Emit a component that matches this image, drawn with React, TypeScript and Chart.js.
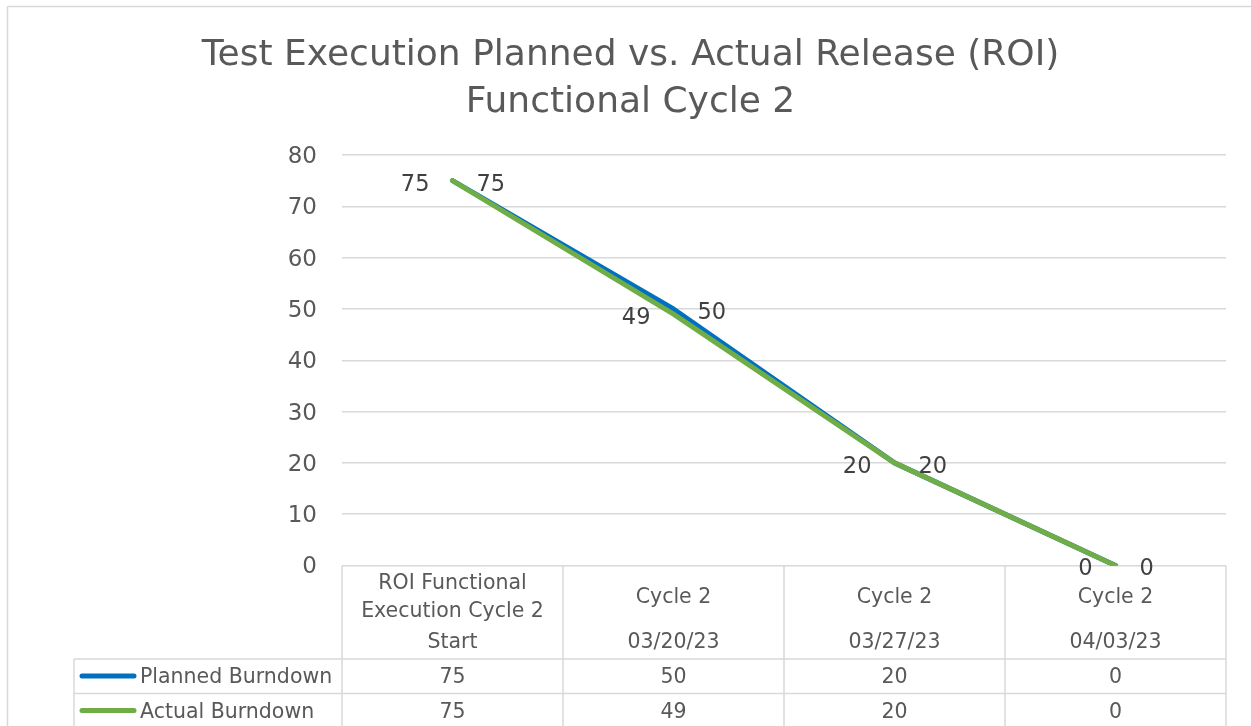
import React, { useEffect, useRef } from "react";
import { Chart, registerables } from "chart.js";

Chart.register(...registerables);

// ---- data ----
const titleLines = ["Test Execution Planned vs. Actual Release (ROI)", "Functional Cycle 2"];
const categoryNames: string[][] = [["ROI Functional", "Execution Cycle 2"], ["Cycle 2"], ["Cycle 2"], ["Cycle 2"]];
const categoryDates = ["Start", "03/20/23", "03/27/23", "04/03/23"];
const seriesNames = ["Planned Burndown", "Actual Burndown"];
const plannedBurndown = [75, 50, 20, 0];
const actualBurndown = [75, 49, 20, 0];
const yMin = 0;
const yMax = 80;
const yStep = 10;

// ---- style ----
const FONT = "'DejaVu Sans', Lato, sans-serif";
const seriesColors = ["#0070C0", "#70AD47"];
const GRID = "#d9d9d9";
const TEXT = "#595959";
const LABEL = "#404040";
const PAD_LEFT = 35;
const PLOT_LEFT = 342;
const TXT_DY = 2;

const dataLabelPlugin = {
  id: "dataLabels",
  afterDatasetsDraw(chart: any) {
    const ctx = chart.ctx;
    ctx.save();
    ctx.font = `22.5px ${FONT}`;
    ctx.fillStyle = LABEL;
    ctx.textBaseline = "middle";
    chart.data.datasets.forEach((ds: any, di: number) => {
      const meta = chart.getDatasetMeta(di);
      meta.data.forEach((pt: any, i: number) => {
        const right = di === 0;
        ctx.textAlign = right ? "left" : "right";
        ctx.fillText(String(ds.data[i]), pt.x + (right ? 24 : -23), pt.y + 4);
      });
    });
    ctx.restore();
  },
};

const tablePlugin = {
  id: "dataTable",
  afterDraw(chart: any) {
    const { ctx, chartArea } = chart;
    const xs = chart.scales.x;
    const n = chart.data.labels.length;
    const colW = (chartArea.right - chartArea.left) / n;
    const top = chartArea.bottom;
    const H = chart.height;
    const W = chart.width;
    const line = (x1: number, y1: number, x2: number, y2: number) => {
      ctx.beginPath();
      ctx.moveTo(x1, y1);
      ctx.lineTo(x2, y2);
      ctx.stroke();
    };
    ctx.save();
    ctx.strokeStyle = GRID;
    ctx.lineWidth = 1.5;
    // outer chart border
    line(7.5, H + 5, 7.5, 6.5);
    line(7.5, 6.5, W + 5, 6.5);
    // column lines
    for (let i = 0; i <= n; i++) {
      const x = chartArea.left + i * colW;
      line(x, top, x, H + 5);
    }
    const legendLeft = 74;
    const rowLines = [top + 93.5, top + 128];
    rowLines.forEach((y) => line(legendLeft, y, chartArea.right, y));
    line(legendLeft, rowLines[0], legendLeft, H + 5);

    // header text
    ctx.fillStyle = TEXT;
    ctx.font = `20.5px ${FONT}`;
    ctx.textAlign = "center";
    ctx.textBaseline = "middle";
    categoryNames.forEach((lines, i) => {
      const cx = xs.getPixelForValue(i);
      const cy = top + 30 + TXT_DY;
      lines.forEach((t, j) => ctx.fillText(t, cx, cy + (j - (lines.length - 1) / 2) * 28));
      ctx.fillText(categoryDates[i], cx, top + 75.5 + TXT_DY);
    });

    // series rows
    const rowCenters = [top + 110.5 + TXT_DY, top + 145 + TXT_DY];
    chart.data.datasets.forEach((ds: any, r: number) => {
      const cy = rowCenters[r];
      ctx.strokeStyle = ds.borderColor;
      ctx.lineWidth = 5;
      ctx.lineCap = "round";
      line(82, cy - TXT_DY, 134, cy - TXT_DY);
      ctx.textAlign = "left";
      ctx.fillText(ds.label, 140, cy);
      ctx.textAlign = "center";
      ds.data.forEach((v: number, i: number) => ctx.fillText(String(v), xs.getPixelForValue(i), cy));
    });
    ctx.restore();
  },
};

export default function App() {
  const ref = useRef<HTMLCanvasElement | null>(null);
  useEffect(() => {
    if (!ref.current) return;
    const chart = new Chart(ref.current, {
      type: "line",
      data: {
        labels: categoryNames.map((l, i) => [...l, categoryDates[i]]),
        datasets: [
          {
            label: seriesNames[0],
            data: plannedBurndown,
            borderColor: seriesColors[0],
            backgroundColor: seriesColors[0],
            borderWidth: 5,
            pointRadius: 0,
            borderCapStyle: "round",
            borderJoinStyle: "round",
            order: 1,
          },
          {
            label: seriesNames[1],
            data: actualBurndown,
            borderColor: seriesColors[1],
            backgroundColor: seriesColors[1],
            borderWidth: 5,
            pointRadius: 0,
            borderCapStyle: "round",
            borderJoinStyle: "round",
            order: 0,
          },
        ],
      },
      options: {
        animation: false,
        responsive: false,
        devicePixelRatio: 1,
        layout: { padding: { left: PAD_LEFT, right: 25, top: 0, bottom: 160.5 } },
        plugins: {
          legend: { display: false },
          tooltip: { enabled: false },
          title: {
            display: true,
            text: titleLines,
            color: TEXT,
            font: { family: FONT, size: 36, weight: "normal", lineHeight: 47 / 36 },
            padding: { top: 32, bottom: 29 },
          },
        },
        scales: {
          x: { type: "category", offset: true, display: false },
          y: {
            min: yMin,
            max: yMax,
            ticks: { stepSize: yStep, padding: 25, labelOffset: 2, color: TEXT, font: { family: FONT, size: 23 } },
            grid: { color: GRID, lineWidth: 1.5, drawTicks: false },
            border: { display: false },
            afterFit: (s: any) => {
              s.width = PLOT_LEFT - PAD_LEFT;
            },
          },
        },
      },
      plugins: [dataLabelPlugin, tablePlugin],
    });
    return () => chart.destroy();
  }, []);
  return (
    <div style={{ position: "fixed", left: 0, top: 0, width: 1251, height: 726, background: "#fff" }}>
      <canvas ref={ref} width={1251} height={726} style={{ display: "block" }} />
    </div>
  );
}
